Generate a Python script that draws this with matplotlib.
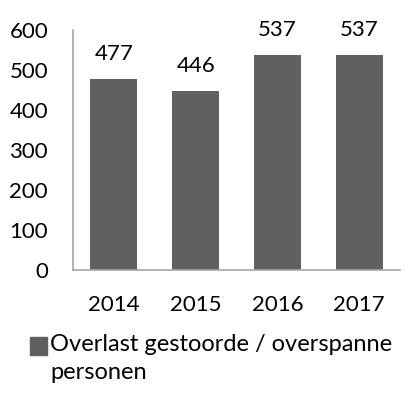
import matplotlib.pyplot as plt
from matplotlib.patches import Rectangle

years = ['2014', '2015', '2016', '2017']
values = [477, 446, 537, 537]
series_name = 'Overlast gestoorde / overspanne\npersonen'

plt.rcParams['font.family'] = ['Lato', 'DejaVu Sans']

fig = plt.figure(figsize=(4.06, 4.05), dpi=100)
ax = fig.add_axes([0.180, 0.333, 0.805, 0.594])

bars = ax.bar(range(len(years)), values, width=0.575, color='#606060')
ax.bar_label(bars, labels=[str(v) for v in values], padding=11, fontsize=16, color='#000000')

ax.set_xlim(-0.5, len(years) - 0.5)
ax.set_ylim(0, 600)
ax.set_yticks(range(0, 601, 100))
ax.set_xticks(range(len(years)))
ax.set_xticklabels(years)
ax.tick_params(axis='both', length=0, labelsize=16)
ax.tick_params(axis='y', pad=18)
ax.tick_params(axis='x', pad=18)

for side in ['top', 'right']:
    ax.spines[side].set_visible(False)
for side in ['left', 'bottom']:
    ax.spines[side].set_color('#a6a6a6')
    ax.spines[side].set_linewidth(1.2)

# legend below the plot
fig.patches.append(Rectangle((30 / 406, 1 - 355 / 405), 17 / 406, 18 / 405,
                             transform=fig.transFigure, color='#606060'))
fig.text(50 / 406, 1 - 334 / 405, series_name, fontsize=17, va='top',
         ha='left', linespacing=1.4, transform=fig.transFigure)

fig.savefig('out.png', dpi=100)
